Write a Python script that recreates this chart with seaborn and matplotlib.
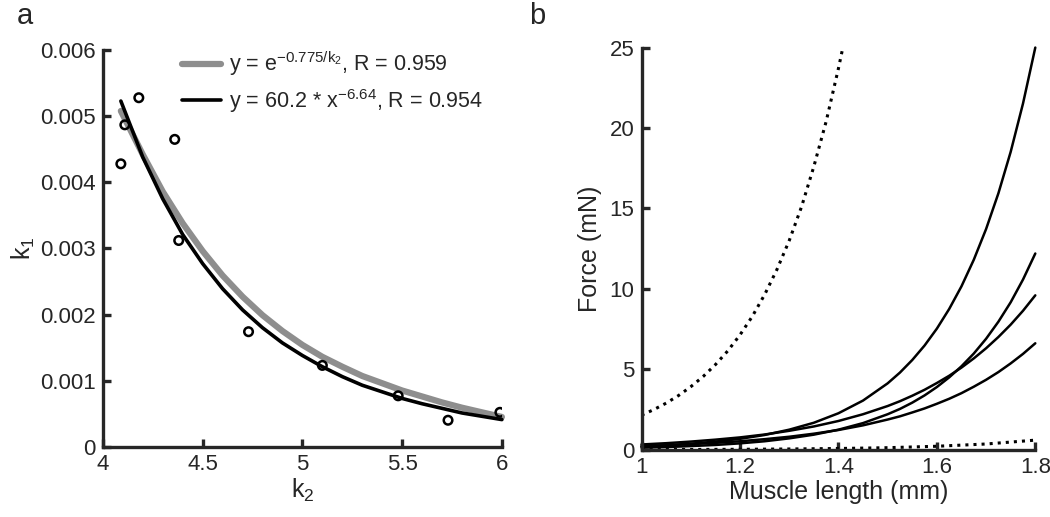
import matplotlib
matplotlib.use('Agg')
import matplotlib.pyplot as plt
import seaborn as sns
import pandas as pd

# ---- panel a: k1 vs k2 ----
k2_pts = [4.09, 4.11, 4.18, 4.36, 4.38, 4.73, 5.10, 5.48, 5.73, 5.99]
k1_pts = [0.00428, 0.00487, 0.00528, 0.00465, 0.00312, 0.00174, 0.00123, 0.00077, 0.00040, 0.00052]

fit_x = [4.09, 4.2, 4.3, 4.4, 4.5, 4.6, 4.7, 4.8, 4.9, 5.0,
         5.1, 5.2, 5.3, 5.4, 5.5, 5.6, 5.7, 5.8, 5.9, 6.0]
exp_fit = [0.00508, 0.00442, 0.00386, 0.00338, 0.00296, 0.00259, 0.00227, 0.00199, 0.00175, 0.00154,
           0.00136, 0.00121, 0.00107, 0.00096, 0.00085, 0.00076, 0.00067, 0.00059, 0.00052, 0.00045]
pow_fit = [0.00523, 0.00438, 0.00375, 0.00321, 0.00277, 0.00239, 0.00207, 0.00180, 0.00157, 0.00138,
           0.00121, 0.00106, 0.00093, 0.00083, 0.00073, 0.00065, 0.00058, 0.00051, 0.00046, 0.00041]

a_xticks = [4, 4.5, 5, 5.5, 6]
a_xlabels = ['4', '4.5', '5', '5.5', '6']
a_yticks = [0, 0.001, 0.002, 0.003, 0.004, 0.005, 0.006]
a_ylabels = ['0', '0.001', '0.002', '0.003', '0.004', '0.005', '0.006']

# ---- panel b: force vs muscle length ----
length = [1.0, 1.05, 1.1, 1.15, 1.2, 1.25, 1.3, 1.35, 1.4, 1.45,
          1.5, 1.525, 1.55, 1.575, 1.6, 1.625, 1.65, 1.675, 1.7, 1.725, 1.75, 1.775, 1.8]
force1 = [0.21, 0.28, 0.38, 0.51, 0.68, 0.92, 1.25, 1.68, 2.27, 3.06,
          4.13, 4.80, 5.58, 6.48, 7.53, 8.75, 10.16, 11.81, 13.72, 15.94, 18.52, 21.52, 25.0]
force2 = [0.13, 0.17, 0.23, 0.30, 0.40, 0.53, 0.71, 0.94, 1.25, 1.66,
          2.21, 2.54, 2.93, 3.38, 3.90, 4.50, 5.19, 5.98, 6.90, 7.96, 9.17, 10.58, 12.2]
force3 = [0.33, 0.41, 0.51, 0.63, 0.77, 0.95, 1.18, 1.45, 1.79, 2.21,
          2.72, 3.02, 3.36, 3.73, 4.15, 4.60, 5.11, 5.68, 6.31, 7.01, 7.78, 8.64, 9.6]
force4 = [0.23, 0.28, 0.35, 0.43, 0.53, 0.66, 0.81, 1.00, 1.23, 1.52,
          1.88, 2.08, 2.32, 2.57, 2.86, 3.17, 3.52, 3.92, 4.35, 4.83, 5.37, 5.96, 6.62]

steep_len = [1.0, 1.025, 1.05, 1.075, 1.1, 1.125, 1.15, 1.175, 1.2, 1.225,
             1.25, 1.275, 1.3, 1.325, 1.35, 1.375, 1.4, 1.409]
steep_force = [2.15, 2.50, 2.90, 3.37, 3.92, 4.55, 5.29, 6.14, 7.14, 8.29,
               9.64, 11.2, 13.0, 15.1, 17.6, 20.4, 23.7, 25.0]
flat_len = [1.0, 1.1, 1.2, 1.3, 1.4, 1.5, 1.6, 1.7, 1.8]
flat_force = [0.01, 0.02, 0.03, 0.05, 0.08, 0.13, 0.22, 0.36, 0.6]

b_xticks = [1, 1.2, 1.4, 1.6, 1.8]
b_xlabels = ['1', '1.2', '1.4', '1.6', '1.8']
b_yticks = [0, 5, 10, 15, 20, 25]

sns.set_style('ticks')
plt.rcParams['font.family'] = ['Liberation Sans', 'DejaVu Sans']
plt.rcParams['mathtext.fontset'] = 'custom'
plt.rcParams['mathtext.rm'] = 'Liberation Sans'
plt.rcParams['mathtext.it'] = 'Liberation Sans'
plt.rcParams['mathtext.bf'] = 'Liberation Sans:bold'

fig = plt.figure(figsize=(10.5, 5.17), dpi=100)
ax1 = fig.add_axes([0.098, 0.136, 0.380, 0.767])
ax2 = fig.add_axes([0.611, 0.130, 0.375, 0.778])

# panel a
fits = pd.DataFrame({'k2': fit_x, 'exp': exp_fit, 'pow': pow_fit})
sns.lineplot(data=fits, x='k2', y='exp', ax=ax1, color='#8e8e8e', linewidth=4.5,
             label=r'y = e$^{-0.775/k_2}$, R = 0.959')
sns.lineplot(data=fits, x='k2', y='pow', ax=ax1, color='black', linewidth=2.6,
             label=r'y = 60.2 * x$^{-6.64}$, R = 0.954')
sns.scatterplot(x=k2_pts, y=k1_pts, ax=ax1, s=38, facecolor='none',
                edgecolor='black', linewidth=1.8, zorder=5)

ax1.set_xlim(4, 6)
ax1.set_ylim(0, 0.006)
ax1.set_xticks(a_xticks)
ax1.set_xticklabels(a_xlabels)
ax1.set_yticks(a_yticks)
ax1.set_yticklabels(a_ylabels)
ax1.set_xlabel(r'k$_2$', fontsize=18)
ax1.set_ylabel(r'k$_1$', fontsize=18)
ax1.yaxis.set_label_coords(-0.165, 0.5)
ax1.xaxis.set_label_coords(0.5, -0.075)
leg = ax1.legend(loc='upper left', bbox_to_anchor=(0.15, 1.05), frameon=False,
                 fontsize=15.5, handlelength=1.8, handletextpad=0.4, labelspacing=0.4)

# panel b
curves = pd.DataFrame({'length': length, 'f1': force1, 'f2': force2, 'f3': force3, 'f4': force4})
for col in ['f1', 'f2', 'f3', 'f4']:
    sns.lineplot(data=curves, x='length', y=col, ax=ax2, color='black', linewidth=1.8)
sns.lineplot(x=steep_len, y=steep_force, ax=ax2, color='black', linewidth=2.2, linestyle=':')
sns.lineplot(x=flat_len, y=flat_force, ax=ax2, color='black', linewidth=2.2, linestyle=':')

ax2.set_xlim(1, 1.8)
ax2.set_ylim(0, 25)
ax2.set_xticks(b_xticks)
ax2.set_xticklabels(b_xlabels)
ax2.set_yticks(b_yticks)
ax2.set_xlabel('Muscle length (mm)', fontsize=18)
ax2.set_ylabel('Force (mN)', fontsize=18)
ax2.yaxis.set_label_coords(-0.1, 0.5)
ax2.xaxis.set_label_coords(0.5, -0.075)

for ax in (ax1, ax2):
    sns.despine(ax=ax)
    for sp in ('left', 'bottom'):
        ax.spines[sp].set_linewidth(2.4)
    ax.tick_params(direction='in', length=6, width=2.4, labelsize=16, pad=5)
    for line in ax.get_lines():
        line.set_clip_on(False)

fig.text(0.024, 0.97, 'a', fontsize=21, va='center', ha='center')
fig.text(0.512, 0.97, 'b', fontsize=21, va='center', ha='center')

fig.savefig('out.png', dpi=100)
